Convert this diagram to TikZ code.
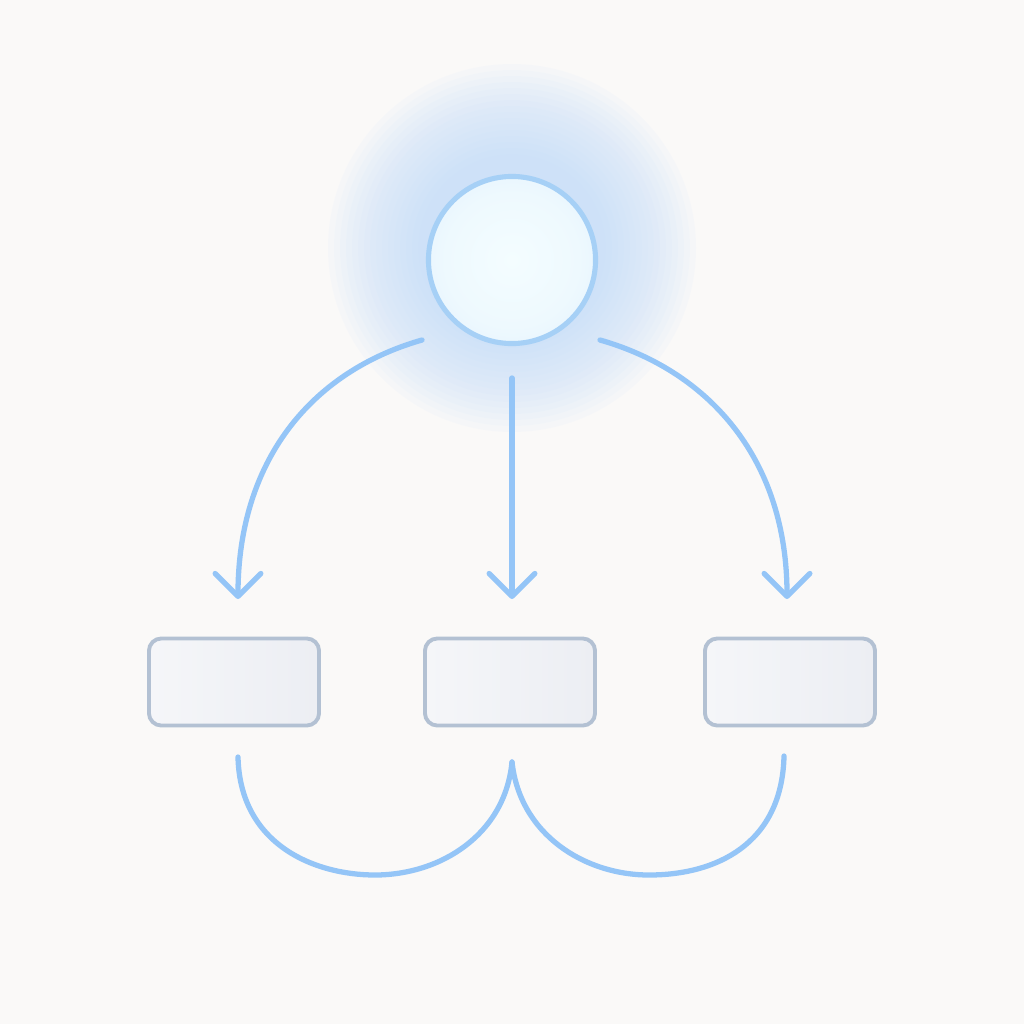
\documentclass[tikz,border=0pt]{standalone}
\usepackage{tikz}
\usepackage{xcolor}
\usetikzlibrary{arrows.meta,positioning}

\definecolor{paper}{HTML}{FAF9F8}
\definecolor{wire}{HTML}{94C5F7}
\definecolor{orbrim}{HTML}{A6D0F6}
\definecolor{orbin}{HTML}{F4FDFF}
\definecolor{orbout}{HTML}{D6E9FB}
\definecolor{halo}{HTML}{C4DFFC}
\definecolor{slab}{HTML}{B3C1D3}
\definecolor{slabtop}{HTML}{F5F6F9}
\definecolor{slabbot}{HTML}{ECEEF3}

\pgfdeclareradialshading{orb}{\pgfpoint{0bp}{0bp}}{color(0bp)=(orbin); color(20bp)=(orbin!80!orbout); color(50bp)=(orbout)}

\begin{document}
\begin{tikzpicture}
  [x=0.01cm,y=-0.01cm,
   every node/.style={inner sep=0pt},
   hub/.style={circle,minimum size=1.67cm,draw=orbrim,line width=1.45pt,shading=orb},
   slot/.style={rectangle,rounded corners=3.5pt,minimum width=1.7cm,minimum height=0.87cm,
     draw=slab,line width=1.1pt,shading angle=135,left color=slabtop,right color=slabbot},
   feed/.style={draw=wire,line width=1.5pt,line cap=round,
     -{Straight Barb[length=6.5pt,width=13pt,round]}},
   link/.style={draw=wire,line width=1.5pt,line cap=round}]

  \useasboundingbox[fill=paper] (0,0) rectangle (1024,1024);
  % soft glow behind the orb
  \foreach \r in {94,100,...,184}
    \fill[halo,opacity=0.08] (512,248) circle (\r);

  \node[hub] (hub) at (512,260) {};
  \node[slot] (s1) at (234,682) {};
  \node[slot] (s2) at (510,682) {};
  \node[slot] (s3) at (790,682) {};

  \coordinate (o1) at (422,340);
  \coordinate (o2) at (512,378);
  \coordinate (o3) at (600,340);
  \coordinate (t1) at (238,599);
  \coordinate (t2) at (512,599);
  \coordinate (t3) at (787,599);
  \coordinate (b1) at (238,757);
  \coordinate (b2) at (512,762);
  \coordinate (b3) at (784,756);

  % arrows from the orb
  \draw[feed] (o1) .. controls (310,372) and (238,462) .. (t1);
  \draw[feed] (o2) -- (t2);
  \draw[feed] (o3) .. controls (712,372) and (787,462) .. (t3);

  % arcs under the boxes
  \draw[link] (b1) .. controls (240,845) and (315,875) .. (375,875)
    .. controls (440,875) and (505,835) .. (b2);
  \draw[link] (b2) .. controls (520,835) and (585,875) .. (649,875)
    .. controls (715,875) and (782,845) .. (b3);
\end{tikzpicture}
\end{document}
